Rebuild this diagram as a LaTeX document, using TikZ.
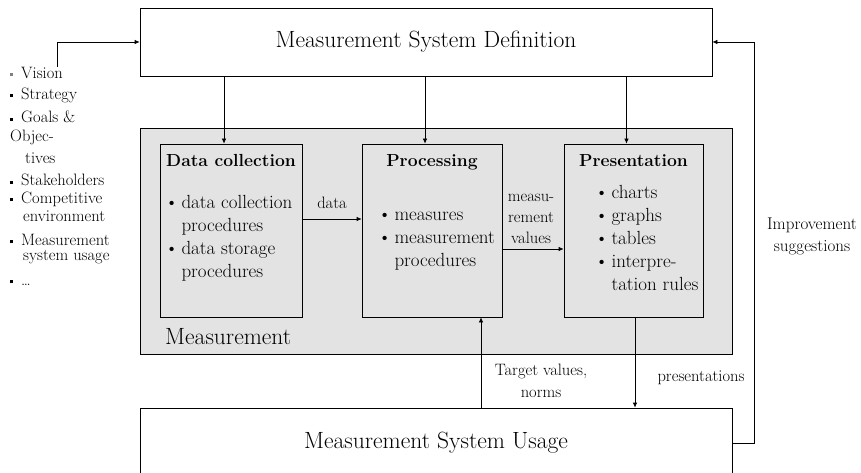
\documentclass[tikz,border=0pt]{standalone}
\usepackage{fontspec}
\usetikzlibrary{arrows.meta,positioning}

\newcommand\sqb{\rule[0.3ex]{3pt}{3pt}\hspace{8pt}}
\newcommand\dotb{\textbullet\hspace{3pt}}

\tikzset{
  arr/.style={-{Latex[length=5pt,width=4.5pt]}, line width=0.7pt},
  bigbox/.style={draw, line width=0.7pt, minimum width=572pt, minimum height=68pt,
    font=\fontsize{23.5}{26}\selectfont},
  stepbox/.style={draw, line width=0.7pt, minimum height=173pt, inner sep=0pt},
  boxtitle/.style={font=\fontsize{17.5}{20}\selectfont\bfseries, inner sep=0pt, anchor=base},
  boxlist/.style={font=\fontsize{19}{23}\selectfont, align=left, inner sep=0pt, anchor=north west},
  lbl/.style={font=\fontsize{16.5}{21}\selectfont, align=center, inner sep=0pt},
  listtxt/.style={font=\fontsize{16.5}{17}\selectfont, anchor=west, inner sep=0pt},
}

\begin{document}
\begin{tikzpicture}[x=1pt,y=-1pt]
\useasboundingbox (0,0) rectangle (861,473);
%definition and usage
\node[bigbox] (msd) at (426,42) {Measurement System Definition};
\node[draw, line width=0.7pt, fill=black!11, minimum width=592pt, minimum height=226pt] (meas) at (436,241) {};
\node[font=\fontsize{23.5}{26}\selectfont, anchor=west, inner sep=0pt] (meastxt) at (165,337) {Measurement};
\node[bigbox, minimum width=592pt, minimum height=70pt] (usage) at (436,443) {Measurement System Usage};

%inner boxes
\node[stepbox, minimum width=142pt] (dc) at (231,230.5) {};
\node[stepbox, minimum width=140pt] (proc) at (432,230.5) {};
\node[stepbox, minimum width=139pt] (pres) at (633.5,230.5) {};

\node[boxtitle] (dctitle) at ([yshift=-23pt]dc.north) {Data collection};
\node[boxtitle] (proctitle) at ([yshift=-23pt]proc.north) {Processing};
\node[boxtitle] (prestitle) at ([yshift=-23pt]pres.north) {Presentation};

\node[boxlist] (dclist) at ([xshift=5pt,yshift=-49pt]dc.north west)
  {\strut\dotb data collection\\\hphantom{\dotb}procedures\\\dotb data storage\\\hphantom{\dotb}procedures};
\node[boxlist] (proclist) at ([xshift=16pt,yshift=-61pt]proc.north west)
  {\strut\dotb measures\\\dotb measurement\\\hphantom{\dotb}procedures};
\node[boxlist] (preslist) at ([xshift=31pt,yshift=-39pt]pres.north west)
  {\strut\dotb charts\\\dotb graphs\\\dotb tables\\\dotb interpre-\\\hphantom{\dotb}tation rules};

%left list
\foreach \y/\x/\t in {73/10/{\textcolor{gray}{\sqb}Vision}, 95/10/{\sqb Strategy}, 117/10/{\sqb Goals \&},
  137/10/{Objec-}, 158/25/{tives}, 180/10/{\sqb Stakeholders}, 199/10/{\sqb Competitive},
  216/23/{environment}, 240/10/{\sqb Measurement}, 257/23/{system usage}, 283/10/{\sqb\ldots}}
  \node[listtxt] (item\y) at (\x,\y) {\t};
\coordinate (src) at (57,67);
\draw[arr] (src) |- (msd.west);

%arrows
\foreach \b in {dc,proc,pres}
  \draw[arr] ([xshift=-7pt]\b.north |- msd.south) -- ([xshift=-7pt]\b.north);
\draw[arr] ([yshift=11.5pt]dc.east) -- ([yshift=11.5pt]dc.east -| proc.west);
\draw[arr] ([yshift=-18.5pt]proc.east) -- ([yshift=-18.5pt]proc.east -| pres.west);
\draw[arr] ([xshift=49pt]proc.south |- usage.north) -- ([xshift=49pt]proc.south);
\draw[arr] ([xshift=1.5pt]pres.south) -- ([xshift=1.5pt]pres.south |- usage.north);
\draw[arr] (usage.east) -- ++(22,0) |- (msd.east);

%labels
\node[lbl] (datalbl) at (332,203) {data};
\node[lbl] (mvlbl) at (531,219) {measu-\\rement\\values};
\node[lbl, font=\fontsize{16.5}{22}\selectfont] (tvlbl) at (541,381) {Target values,\\norms};
\node[lbl] (preslbl) at (701,378) {presentations};
\node[lbl, font=\fontsize{17}{22}\selectfont] (implbl) at (812,236) {Improvement\\suggestions};
\end{tikzpicture}
\end{document}
